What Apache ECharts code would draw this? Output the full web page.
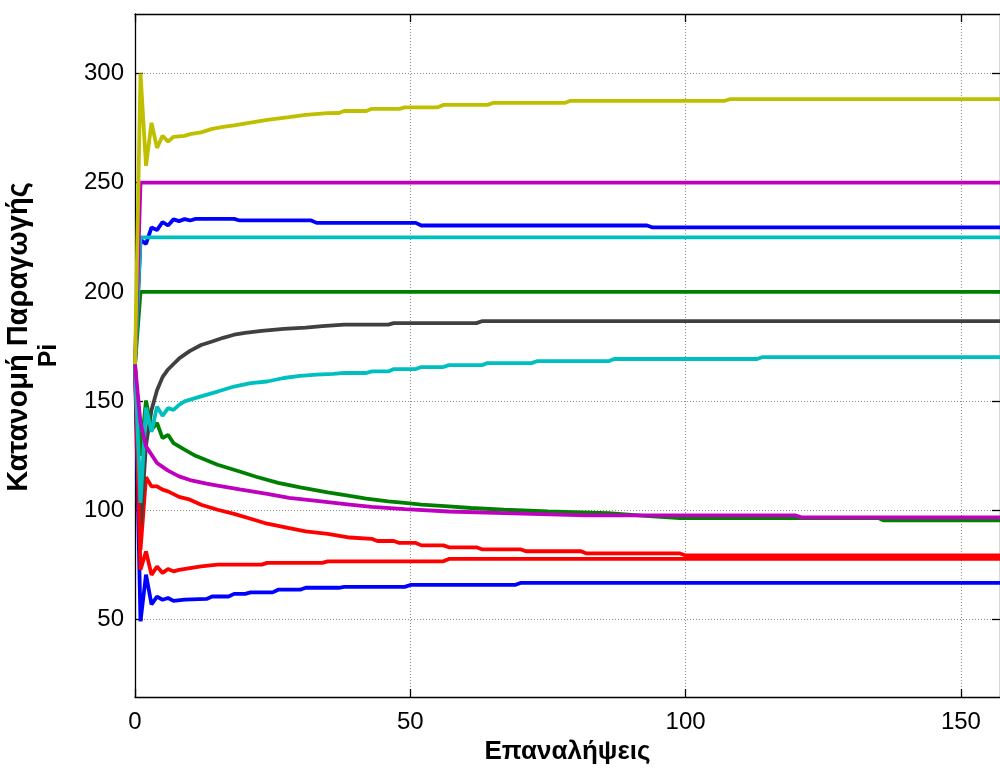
<!DOCTYPE html>
<html>
<head>
<meta charset="utf-8">
<title>Κατανομή Παραγωγής</title>
<script src="https://cdn.jsdelivr.net/npm/echarts@6/dist/echarts.min.js"></script>
<style>
  html, body { margin: 0; padding: 0; background: #fff; }
  #chart { width: 1000px; height: 773px; }
</style>
</head>
<body>
<div id="chart"></div>
<script>
// Tick positions shown on the axes
const xTicks = [0, 50, 100, 150];
const yTicks = [50, 100, 150, 200, 250, 300];

// Output of each unit per iteration: [iteration, Pi]
const blueUpper = [[0,166.7],[1,223.8],[2,222],[3,229.5],[4,228.3],[5,232],[6,230.4],[7,233.2],[8,232.4],[9,233.3],[10,232.7],[11,233.4],[18,233.4],[19,232.7],[32,232.7],[33,231.6],[51,231.6],[52,230.4],[93,230.4],[94,229.5],[157.1,229.5]];
const greenUpper = [[0,166.7],[1,200],[157.1,200]];
const redUpper = [[0,166.7],[1,82],[2,115.2],[3,111],[4,111],[5,109.5],[6,108.7],[8,106.2],[10,104.9],[12,102.6],[15,100.3],[18,98.4],[21,96.2],[24,93.9],[28,91.9],[31,90.4],[35,89.3],[39,87.6],[43,87],[44,86],[47,86],[48,85.1],[51,85.1],[52,84],[56,84],[57,83.1],[62,83.1],[63,82.2],[70,82.2],[71,81.3],[81,81.3],[82,80.3],[99,80.3],[100,79.4],[157.1,79.4]];
const cyanUpper = [[0,166.7],[1,225],[157.1,225]];
const magentaUpper = [[0,166.7],[1,250],[157.1,250]];
const yellowUnit = [[0,166.7],[1,300],[2,257.7],[3,277.4],[4,265.9],[5,271.5],[6,268.8],[7,271],[9,271.4],[10,272.2],[12,273],[14,274.6],[16,275.5],[18,276.2],[21,277.5],[24,278.7],[28,280],[31,281],[35,281.8],[37,281.9],[38,282.8],[42,282.8],[43,283.8],[48,283.8],[49,284.5],[55,284.5],[56,285.6],[64,285.6],[65,286.5],[78,286.5],[79,287.4],[107,287.4],[108,288.2],[157.1,288.2]];
const grayUnit = [[0,166.7],[1,92.7],[2,130],[3,146],[4,155],[5,161],[6,164.5],[7,167],[8,169.5],[9,171.3],[10,173],[12,175.7],[14,177.3],[16,179],[18,180.4],[20,181.3],[23,182.2],[27,183.1],[31,183.7],[34,184.3],[38,185],[46,185],[47,185.7],[62,185.7],[63,186.6],[157.1,186.6]];
const blueLower = [[0,166.7],[1,49.2],[2,70.6],[3,57],[4,60.5],[5,59.1],[6,59.9],[7,58.6],[9,59.2],[13,59.5],[14,60.6],[17,60.6],[18,61.8],[20,61.8],[21,62.5],[25,62.5],[26,63.7],[30,63.7],[31,64.6],[37,64.6],[38,65],[49,65],[50,65.9],[69,65.9],[70,66.8],[157.1,66.8]];
const greenLower = [[0,166.7],[1,125],[2,150.3],[3,136.9],[4,140],[5,133.1],[6,134.6],[7,130.8],[9,127.8],[11,125],[15,120.9],[19,117.8],[22,115.4],[26,112.6],[30,110.5],[35,108.3],[39,106.6],[42,105.4],[46,104.1],[49,103.4],[52,102.6],[57,101.8],[61,101.1],[67,100.3],[75,99.5],[86,98.8],[92,97.6],[99,96.5],[135,96.5],[136,95.4],[157.1,95.4]];
const redLower = [[0,166.7],[1,72.9],[2,81.2],[3,70.5],[4,74.3],[5,71.4],[6,73.2],[7,72.1],[8,72.8],[10,73.6],[12,74.4],[15,75.2],[23,75.2],[24,76],[34,76],[35,76.7],[56,76.7],[57,77.8],[157.1,77.8]];
const cyanLower = [[0,166.7],[1,103.4],[2,147],[3,136],[4,147.5],[5,143.3],[6,146.8],[7,146],[8,148.3],[9,149.9],[12,152.2],[15,154.4],[18,156.7],[21,158.3],[24,159],[27,160.6],[30,161.6],[33,162.1],[36,162.5],[38,162.9],[42,162.9],[43,163.6],[46,163.6],[47,164.7],[51,164.7],[52,165.6],[56,165.6],[57,166.5],[63,166.5],[64,167.4],[72,167.4],[73,168.3],[86,168.3],[87,169.3],[113,169.3],[114,170.2],[157.1,170.2]];
const magentaLower = [[0,166.7],[1,140],[2,129.3],[4,121.7],[6,118.2],[8,115.6],[10,113.9],[13,112.3],[15,111.3],[19,109.6],[24,107.6],[28,105.7],[33,104.4],[37,103.2],[39,102.6],[43,101.6],[49,100.6],[57,99.5],[67,98.8],[82,97.7],[120,97.7],[121,96.8],[157.1,96.8]];

const unitSeries = [
  { data: blueUpper, color: '#0000FF' },
  { data: greenUpper, color: '#008000' },
  { data: redUpper, color: '#FF0000' },
  { data: cyanUpper, color: '#00BFBF' },
  { data: magentaUpper, color: '#BF00BF' },
  { data: yellowUnit, color: '#BFBF00' },
  { data: grayUnit, color: '#404040' },
  { data: blueLower, color: '#0000FF' },
  { data: greenLower, color: '#008000' },
  { data: redLower, color: '#FF0000' },
  { data: cyanLower, color: '#00BFBF' },
  { data: magentaLower, color: '#BF00BF' }
];

const FONT = "'Liberation Sans', Arial, sans-serif";
const X_MIN = 0, X_MAX = 157.1;
const Y_MIN = 14.6, Y_MAX = 327.2;

const gridLine = { show: true, lineStyle: { color: '#8a8a8a', width: 1, type: [1, 2] } };
const boxLine = { show: true, onZero: false, lineStyle: { color: '#000', width: 1.3 } };

const chart = echarts.init(document.getElementById('chart'), null, { renderer: 'canvas' });
chart.setOption({
  animation: false,
  backgroundColor: '#ffffff',
  grid: { left: 135, right: 0, top: 14, bottom: 76, containLabel: false, outerBoundsMode: 'none' },
  xAxis: [
    {
      type: 'value', position: 'bottom', min: X_MIN, max: X_MAX,
      name: 'Επαναλήψεις', nameLocation: 'middle', nameGap: 42,
      nameTextStyle: { fontFamily: FONT, fontSize: 26, fontWeight: 'bold', color: '#000' },
      axisLine: boxLine,
      axisTick: { show: true, inside: true, length: 8, customValues: xTicks, lineStyle: { color: '#000', width: 1.3 } },
      axisLabel: { show: true, customValues: xTicks, margin: 13, fontFamily: FONT, fontSize: 24, color: '#000' },
      splitLine: gridLine
    },
    {
      type: 'value', position: 'top', min: X_MIN, max: X_MAX,
      axisLine: boxLine,
      axisTick: { show: true, inside: true, length: 8, customValues: xTicks, lineStyle: { color: '#000', width: 1.3 } },
      axisLabel: { show: false },
      splitLine: { show: false }
    }
  ],
  yAxis: [
    {
      type: 'value', position: 'left', min: Y_MIN, max: Y_MAX,
      name: '{a|Κατανομή Παραγωγής}\n{b|Pi}', nameLocation: 'middle', nameGap: 72,
      nameTextStyle: {
        fontFamily: FONT, fontWeight: 'bold', color: '#000',
        rich: {
          a: { fontFamily: FONT, fontSize: 29, fontWeight: 'bold', color: '#000', lineHeight: 34, padding: [0, 0, 0, 37] },
          b: { fontFamily: FONT, fontSize: 25, fontWeight: 'bold', color: '#000', lineHeight: 27 }
        }
      },
      axisLine: boxLine,
      axisTick: { show: true, inside: true, length: 8, customValues: yTicks, lineStyle: { color: '#000', width: 1.3 } },
      axisLabel: { show: true, customValues: yTicks, margin: 11, fontFamily: FONT, fontSize: 24, color: '#000' },
      splitLine: gridLine
    },
    {
      type: 'value', position: 'right', min: Y_MIN, max: Y_MAX,
      axisLine: boxLine,
      axisTick: { show: true, inside: true, length: 8, customValues: yTicks, lineStyle: { color: '#000', width: 1.3 } },
      axisLabel: { show: false },
      splitLine: { show: false }
    }
  ],
  series: unitSeries.map(s => ({
    type: 'line',
    xAxisIndex: 0,
    yAxisIndex: 0,
    data: s.data,
    showSymbol: false,
    symbol: 'none',
    clip: true,
    lineStyle: { color: s.color, width: 3.8 },
    itemStyle: { color: s.color },
    emphasis: { disabled: true }
  }))
});
</script>
</body>
</html>
